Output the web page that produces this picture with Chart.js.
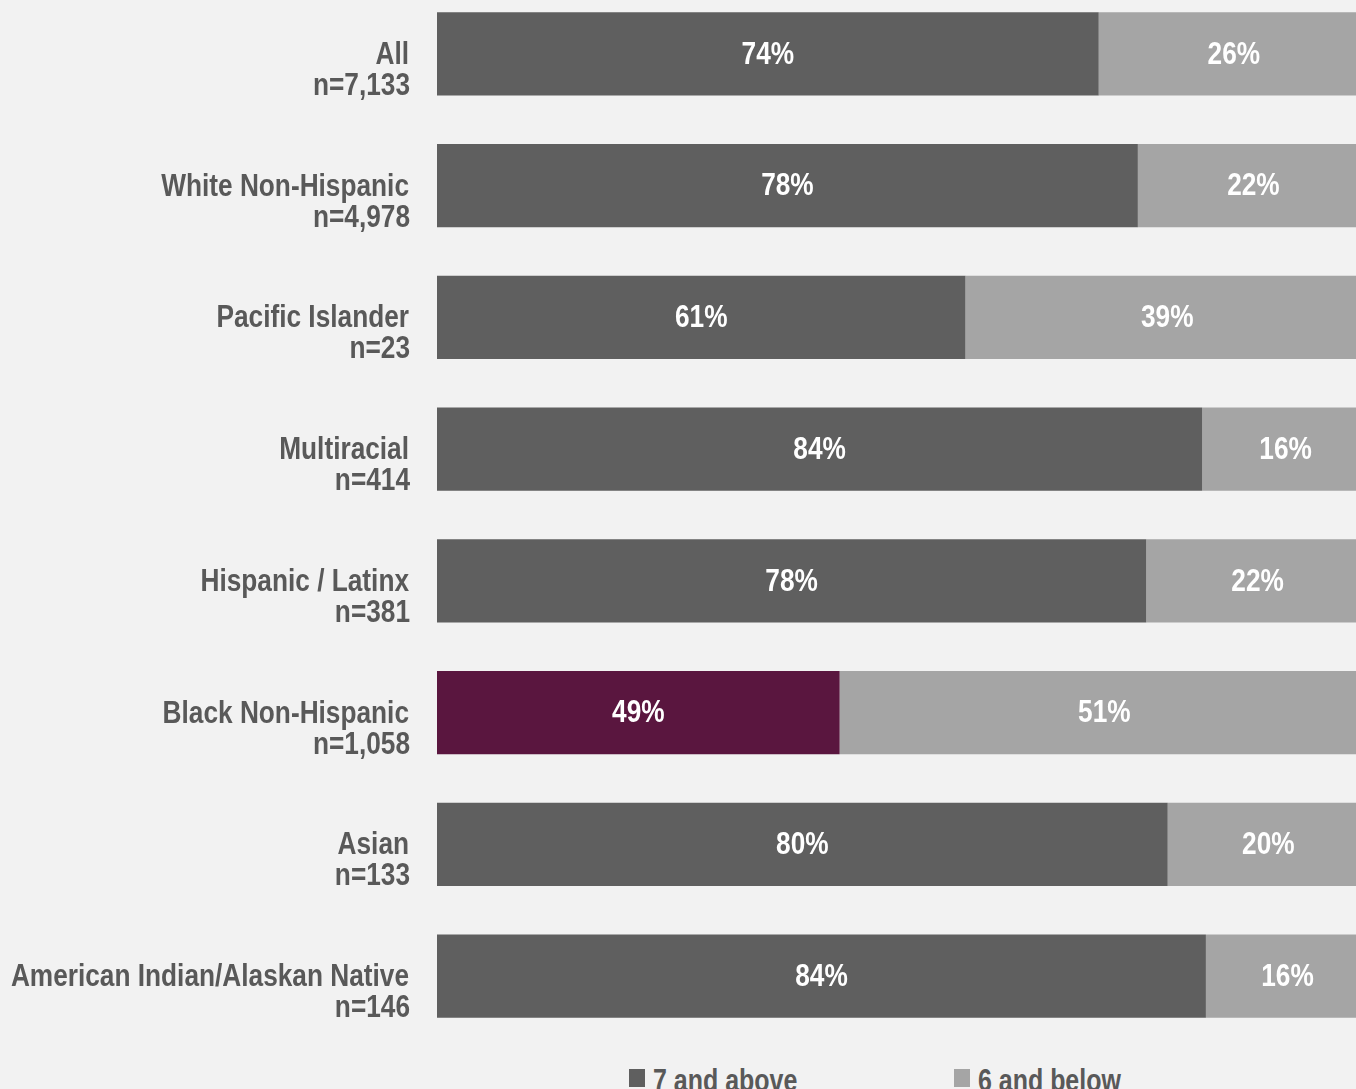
<!DOCTYPE html>
<html>
<head>
<meta charset="utf-8">
<script src="https://cdn.jsdelivr.net/npm/chart.js@4.4.1/dist/chart.umd.min.js"></script>
<style>
  html, body { margin: 0; padding: 0; background: #f2f2f2; overflow: hidden; width: 1356px; height: 1089px; }
  #wrap { position: absolute; left: 0; top: -12px; width: 1370px; height: 1054px; }
  .legend { position: absolute; top: 1062px; line-height: 36px; font: bold 32px "Liberation Sans Narrow", "Arial Narrow", "Liberation Sans", sans-serif; color: #595959; white-space: nowrap; transform: scaleX(0.78); transform-origin: left top; }
  .box { position: absolute; top: 1069px; width: 16px; height: 18px; }
</style>
</head>
<body>
<div id="wrap"><canvas id="chart"></canvas></div>
<div class="box" style="left:629px; background:#5f5f5f"></div>
<div class="legend" style="left:653px">7 and above</div>
<div class="box" style="left:954px; background:#a5a5a5"></div>
<div class="legend" style="left:978px">6 and below</div>
<script>
const groups = ["All", "White Non-Hispanic", "Pacific Islander", "Multiracial", "Hispanic / Latinx", "Black Non-Hispanic", "Asian", "American Indian/Alaskan Native"];
const sizes = ["n=7,133", "n=4,978", "n=23", "n=414", "n=381", "n=1,058", "n=133", "n=146"];
// bar lengths as drawn (share of the full bar)
const aboveValues = [71.0, 75.2, 56.7, 82.1, 76.1, 43.2, 78.4, 82.5];
const belowValues = aboveValues.map(v => 100 - v);
// percentages as printed on the bars
const aboveLabels = ["74%", "78%", "61%", "84%", "78%", "49%", "80%", "84%"];
const belowLabels = ["26%", "22%", "39%", "16%", "22%", "51%", "20%", "16%"];

const FONT = "bold 32px 'Liberation Sans Narrow', 'Arial Narrow', 'Liberation Sans', sans-serif";
const NARROW = 0.82; // no narrow face installed, so squeeze the regular bold one
const darkColors = groups.map(g => g === "Black Non-Hispanic" ? "#5a163f" : "#5f5f5f");

function narrowText(ctx, text, x, y) {
  ctx.save();
  ctx.translate(x, y);
  ctx.scale(NARROW, 1);
  ctx.fillText(text, 0, 0);
  ctx.restore();
}

const labelPlugin = {
  id: "labels",
  afterDatasetsDraw(chart) {
    const ctx = chart.ctx;
    ctx.save();
    ctx.font = FONT;
    ctx.fillStyle = "#ffffff";
    ctx.textAlign = "center";
    ctx.textBaseline = "middle";
    const texts = [aboveLabels, belowLabels];
    chart.data.datasets.forEach((ds, di) => {
      chart.getDatasetMeta(di).data.forEach((bar, i) => {
        const cx = (bar.x + bar.base) / 2;
        narrowText(ctx, texts[di][i], cx, bar.y + 1);
      });
    });
    // category labels
    const y = chart.scales.y;
    ctx.fillStyle = "#595959";
    ctx.textAlign = "right";
    ctx.textBaseline = "alphabetic";
    groups.forEach((g, i) => {
      const py = y.getPixelForTick(i);
      narrowText(ctx, g, 409, py + 10);
      narrowText(ctx, sizes[i], 410, py + 41);
    });
    ctx.restore();
  }
};

new Chart(document.getElementById("chart"), {
  type: "bar",
  data: {
    labels: groups,
    datasets: [
      { label: "7 and above", data: aboveValues, backgroundColor: darkColors },
      { label: "6 and below", data: belowValues, backgroundColor: "#a5a5a5" }
    ]
  },
  options: {
    indexAxis: "y",
    responsive: true,
    maintainAspectRatio: false,
    animation: false,
    categoryPercentage: 1,
    barPercentage: 0.63,
    layout: { padding: { left: 437, right: 1, top: 0, bottom: 0 } },
    plugins: { legend: { display: false }, tooltip: { enabled: false } },
    scales: {
      x: { stacked: true, min: 0, max: 100, display: false },
      y: { stacked: true, display: false }
    }
  },
  plugins: [labelPlugin]
});
</script>
</body>
</html>
